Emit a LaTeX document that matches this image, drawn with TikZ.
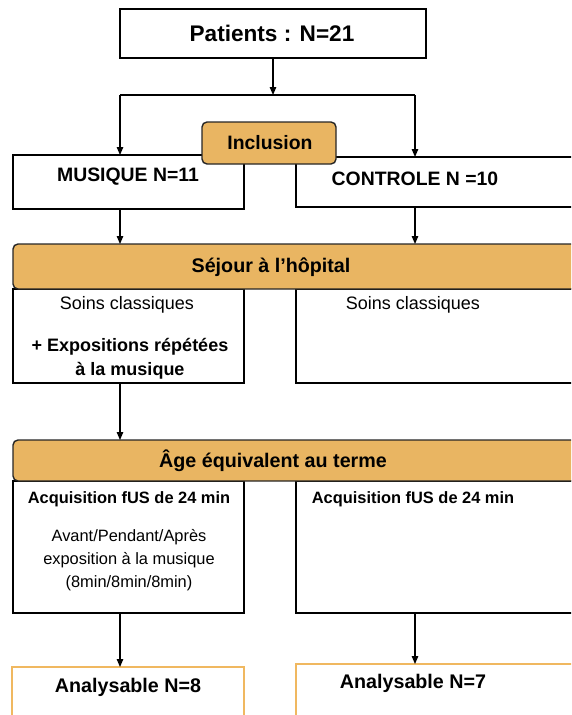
\documentclass[tikz,border=0pt]{standalone}
\usepackage{fontspec}
\setmainfont{Liberation Sans}
\usetikzlibrary{arrows.meta}
\definecolor{barfill}{HTML}{E9B562}
\definecolor{anaborder}{HTML}{F0B860}
\begin{document}
\begin{tikzpicture}[x=1pt,y=-1pt,
  box/.style={draw=black, line width=1.3pt, fill=white, inner sep=0pt, outer sep=0pt, anchor=north west},
  bar/.style={draw=black!85, line width=1.4pt, fill=barfill, rounded corners=5pt, inner sep=0pt, outer sep=0pt, anchor=north west},
  anabox/.style={draw=anaborder, line width=1.2pt, fill=white, inner sep=0pt, outer sep=0pt, anchor=north west},
  ln/.style={line width=1.3pt},
  arr/.style={line width=1.3pt, -{Triangle[length=8pt,width=6.5pt]}},
  txt/.style={inner sep=0pt, align=center, text=black}
]
\useasboundingbox (0,0) rectangle (571,715);
\clip (0,0) rectangle (571,715);

% boxes
\node[box, minimum width=306pt, minimum height=49pt] (pat) at (120,9) {};
\node[box, minimum width=231pt, minimum height=54pt] (musique) at (13,155) {};
\node[box, minimum width=284pt, minimum height=50pt] (controle) at (296,157) {};
\node[bar, minimum width=134pt, minimum height=42pt] (incl) at (202,122) {};
\node[box, minimum width=231pt, minimum height=94pt] (soinsL) at (13,289) {};
\node[box, minimum width=284pt, minimum height=94pt] (soinsR) at (296,289) {};
\node[bar, minimum width=567pt, minimum height=45pt] (sejour) at (13,244) {};
\node[box, minimum width=231pt, minimum height=132pt] (acqL) at (13,481) {};
\node[box, minimum width=284pt, minimum height=132pt] (acqR) at (296,481) {};
\node[bar, minimum width=567pt, minimum height=41pt] (age) at (13,440) {};
\node[anabox, minimum width=232pt, minimum height=60pt] (anaL) at (12,667) {};
\node[anabox, minimum width=284pt, minimum height=63pt] (anaR) at (296,664) {};

% texts
\node[txt, font=\bfseries\fontsize{22.6}{26}\selectfont] (tpat) at (272,33) {Patients : N=21};
\node[txt, font=\bfseries\fontsize{19.4}{23}\selectfont] (tincl) at (270,143) {Inclusion};
\node[txt, font=\bfseries\fontsize{19.4}{23}\selectfont] (tmus) at (128,177) {MUSIQUE N=11};
\node[txt, font=\bfseries\fontsize{19.4}{23}\selectfont] (tcon) at (415,179) {CONTROLE N =10};
\node[txt, font=\bfseries\fontsize{19.7}{23}\selectfont] (tsej) at (271,267) {Séjour à l’hôpital};
\node[txt, font=\fontsize{18}{22}\selectfont] (tsoinsL) at (127,305) {Soins classiques};
\node[txt, font=\fontsize{18}{22}\selectfont] (tsoinsR) at (413,305) {Soins classiques};
\node[txt, font=\bfseries\fontsize{18}{24}\selectfont] (texpo) at (130,359) {+ Expositions répétées\\à la musique};
\node[txt, font=\bfseries\fontsize{19.7}{23}\selectfont] (tage) at (273,461) {Âge équivalent au terme};
\node[txt, font=\bfseries\fontsize{16.4}{20}\selectfont] (tacqL) at (129,499) {Acquisition fUS de 24 min};
\node[txt, font=\bfseries\fontsize{16.4}{20}\selectfont] (tacqR) at (413,499) {Acquisition fUS de 24 min};
\node[txt, font=\fontsize{16.4}{23}\selectfont] (tavant) at (129,560) {Avant/Pendant/Après\\exposition à la musique\\(8min/8min/8min)};
\node[txt, font=\bfseries\fontsize{19.7}{23}\selectfont] (tanaL) at (128,687) {Analysable N=8};
\node[txt, font=\bfseries\fontsize{19.7}{23}\selectfont] (tanaR) at (413,683) {Analysable N=7};

% connectors
\coordinate (split) at (273,95);
\coordinate (sL) at (120,95);
\coordinate (sR) at (415,95);
\draw[arr] (pat.south -| split) -- (split);
\draw[ln] (sL) -- (sR);
\draw[arr] (sL) -- (sL |- musique.north);
\draw[arr] (sR) -- (sR |- controle.north);
\draw[arr] (sL |- musique.south) -- (sL |- sejour.north);
\draw[arr] (sR |- controle.south) -- (sR |- sejour.north);
\draw[arr] (sL |- soinsL.south) -- (sL |- age.north);
\draw[arr] (sL |- acqL.south) -- (sL |- anaL.north);
\draw[arr] (sR |- acqR.south) -- (sR |- anaR.north);
\end{tikzpicture}
\end{document}
